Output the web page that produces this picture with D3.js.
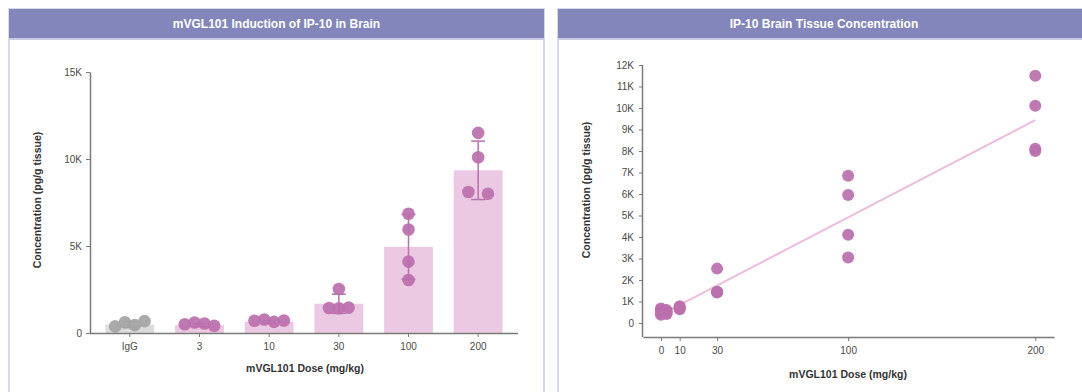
<!DOCTYPE html>
<html><head><meta charset="utf-8">
<script src="https://cdn.jsdelivr.net/npm/d3@7"></script>
<style>
html,body{margin:0;padding:0;background:#fff;}
svg{display:block;font-family:"Liberation Sans",Arial,sans-serif;}
</style></head>
<body><svg id="c" width="1082" height="392"></svg>
<script>
// ---------- data ----------
const categories = ["IgG","3","10","30","100","200"];
const doses      = [0, 3, 10, 30, 100, 200];
const barMeans   = [480, 450, 640, 1680, 4950, 9350];
const barSDs     = [170, 90, 80, 550, 1870, 1680];
const pointsIgG  = [380, 620, 450, 680];
const points3    = [500, 600, 550, 420];
const points10   = [700, 780, 640, 720];
const points30   = [1440, 2530, 1420, 1460];
const points100  = [6850, 5950, 4100, 3050];
const points200  = [11500, 10100, 8100, 8000];
const groupPoints = [pointsIgG, points3, points10, points30, points100, points200];
const leftYTicks  = [0, 5000, 10000, 15000];
const rightYTicks = [0,1000,2000,3000,4000,5000,6000,7000,8000,9000,10000,11000,12000];
const rightXTicks = [0, 10, 30, 100, 200];
const fitX = [0, 200];
const fitY = [390, 9440];
const leftTitle  = "mVGL101 Induction of IP-10 in Brain";
const rightTitle = "IP-10 Brain Tissue Concentration";
const xTitle = "mVGL101 Dose (mg/kg)";
const yTitle = "Concentration (pg/g tissue)";

// ---------- style ----------
const HEAD = "#8286bb", BORDER = "#d7d9ef", AX = "#7a7a7a", TXT = "#4a4a4a";
const PT = "#bb6fac", BAR = "#ecc9e3", GRAYBAR = "#dcdcdc", GRAYPT = "#a3a3a3", FIT = "#ebbcdb";
const kfmt = v => v === 0 ? "0" : (v/1000) + "K";

const svg = d3.select("#c");

function panel(x0, x1, title){
  svg.append("rect").attr("x", x0).attr("y", 9).attr("width", x1-x0).attr("height", 400)
    .attr("fill", "#fff").attr("stroke", BORDER).attr("stroke-width", 2);
  svg.append("rect").attr("x", x0).attr("y", 9).attr("width", x1-x0).attr("height", 29).attr("fill", HEAD);
  svg.append("rect").attr("x", x0).attr("y", 38).attr("width", x1-x0).attr("height", 2).attr("fill", "#c9cbe6");
  svg.append("text").attr("x", (x0+x1)/2).attr("y", 28).attr("text-anchor","middle")
    .attr("fill","#fff").attr("font-size", 12).attr("font-weight","bold").text(title);
}
panel(9, 544, leftTitle);
panel(558, 1090, rightTitle);

function styleAxis(g){
  g.selectAll(".domain").attr("stroke", AX).attr("stroke-width", 1.5);
  g.selectAll(".tick line").attr("stroke", AX);
  g.selectAll(".tick text").attr("fill", TXT).attr("font-size", 10);
}

// ---------- left chart ----------
const lx = d3.scaleBand().domain(categories).range([95, 513]).paddingInner(0.3).paddingOuter(0.15);
const ly = d3.scaleLinear().domain([0, 15000]).range([333, 72]);
const L = svg.append("g");

L.selectAll("rect.bar").data(categories).join("rect")
  .attr("x", d => lx(d)).attr("width", lx.bandwidth())
  .attr("y", (d,i) => ly(barMeans[i])).attr("height", (d,i) => ly(0) - ly(barMeans[i]))
  .attr("fill", (d,i) => i === 0 ? GRAYBAR : BAR);

// error bars
categories.forEach((c,i) => {
  const cx = lx(c) + lx.bandwidth()/2, col = i === 0 ? GRAYPT : PT;
  const top = ly(barMeans[i] + barSDs[i]), bot = ly(Math.max(0, barMeans[i] - barSDs[i]));
  L.append("line").attr("x1",cx).attr("x2",cx).attr("y1",top).attr("y2",bot).attr("stroke",col).attr("stroke-width",1.5);
  [top, bot].forEach(yy => L.append("line").attr("x1",cx-7).attr("x2",cx+7).attr("y1",yy).attr("y2",yy).attr("stroke",col).attr("stroke-width",1.5));
});

// points with simple dodge (clusters of overlapping points spread symmetrically, in data order)
const R = 6.3, SP = 9.8;
categories.forEach((c,i) => {
  const cx = lx(c) + lx.bandwidth()/2;
  const idx = groupPoints[i].map((v,k) => k).sort((a,b) => groupPoints[i][a] - groupPoints[i][b]);
  const clusters = [];
  idx.forEach(k => {
    const last = clusters[clusters.length-1];
    if (last && Math.abs(ly(groupPoints[i][k]) - ly(groupPoints[i][last[last.length-1]])) < 2*R) last.push(k);
    else clusters.push([k]);
  });
  clusters.forEach(cl => {
    cl.sort((a,b) => a-b);
    const n = cl.length;
    cl.forEach((k,j) => {
      const off = n === 2 ? (j === 0 ? -SP : SP) : (j - (n-1)/2) * SP;
      L.append("circle").attr("cx", cx + off).attr("cy", ly(groupPoints[i][k])).attr("r", R)
        .attr("fill", i === 0 ? GRAYPT : PT).attr("fill-opacity", 0.92);
    });
  });
});

const lyAxis = L.append("g").attr("transform","translate(90,0)")
  .call(d3.axisLeft(ly).tickValues(leftYTicks).tickFormat(kfmt).tickSize(4).tickPadding(4).tickSizeOuter(0));
styleAxis(lyAxis);
const lxAxis = L.append("g").attr("transform","translate(0,333)")
  .call(d3.axisBottom(lx).tickSize(4).tickPadding(6).tickSizeOuter(0));
lxAxis.select(".domain").attr("d", "M90,0.5H518");
styleAxis(lxAxis);

L.append("text").attr("x", 305).attr("y", 372).attr("text-anchor","middle").attr("font-size",10.5)
  .attr("font-weight","bold").attr("fill","#333").text(xTitle);
L.append("text").attr("transform","translate(41,200) rotate(-90)").attr("text-anchor","middle").attr("font-size",10.5)
  .attr("font-weight","bold").attr("fill","#333").text(yTitle);

// ---------- right chart ----------
const rx = d3.scaleLinear().domain([-9.6, 210]).range([643, 1054]);
const ry = d3.scaleLinear().domain([-650, 12000]).range([337, 65]);
const G = svg.append("g");

G.append("line").attr("x1", rx(fitX[0])).attr("x2", rx(fitX[1])).attr("y1", ry(fitY[0])).attr("y2", ry(fitY[1]))
  .attr("stroke", FIT).attr("stroke-width", 2);

doses.forEach((d,i) => {
  groupPoints[i].forEach(v => {
    G.append("circle").attr("cx", rx(d)).attr("cy", ry(v)).attr("r", 6).attr("fill", PT).attr("fill-opacity", 0.92);
  });
});

const ryAxis = G.append("g").attr("transform","translate(643,0)")
  .call(d3.axisLeft(ry).tickValues(rightYTicks).tickFormat(kfmt).tickSize(4).tickPadding(5).tickSizeOuter(0));
ryAxis.select(".domain").attr("d", "M-0.5,65V337");
styleAxis(ryAxis);
const rxAxis = G.append("g").attr("transform","translate(0,337)")
  .call(d3.axisBottom(rx).tickValues(rightXTicks).tickFormat(d3.format("d")).tickSize(4).tickPadding(6).tickSizeOuter(0));
styleAxis(rxAxis);

G.append("text").attr("x", 848).attr("y", 378).attr("text-anchor","middle").attr("font-size",10.5)
  .attr("font-weight","bold").attr("fill","#333").text(xTitle);
G.append("text").attr("transform","translate(590,190) rotate(-90)").attr("text-anchor","middle").attr("font-size",10.5)
  .attr("font-weight","bold").attr("fill","#333").text(yTitle);
</script></body></html>
